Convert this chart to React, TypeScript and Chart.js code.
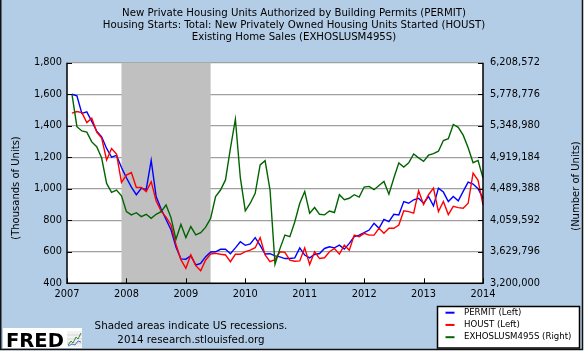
import React, { useEffect, useRef } from "react";
import { Chart, registerables } from "chart.js";

Chart.register(...registerables);

const FONT = "'DejaVu Sans', Verdana, sans-serif";
const BG = "#b4cde6";

const titleLines = [
  "New Private Housing Units Authorized by Building Permits (PERMIT)",
  "Housing Starts: Total: New Privately Owned Housing Units Started (HOUST)",
  "Existing Home Sales (EXHOSLUSM495S)",
];

const years = [2007, 2008, 2009, 2010, 2011, 2012, 2013, 2014];
const monthCodes = ["01", "02", "03", "04", "05", "06", "07", "08", "09", "10", "11", "12"];
const months: string[] = [];
years.forEach((y) =>
  monthCodes.forEach((m) => {
    if (y < 2014 || m === "01") months.push(`${y}-${m}`);
  })
);

// Thousands of units (left axis); Jan 2007 not drawn
const permit = [
  null,
  1600, 1590, 1478, 1488, 1428, 1366, 1330, 1256, 1200, 1212,
  1135, 1070, 1010, 962, 1003, 996, 1180, 950, 872, 805,
  740, 630, 555, 553, 575, 516, 527, 569, 599, 600,
  616, 616, 588, 625, 664, 641, 650, 690, 640, 586,
  588, 574, 568, 557, 557, 561, 625, 579, 561, 583,
  589, 621, 632, 625, 642, 617, 653, 696, 706, 721,
  738, 781, 749, 806, 791, 838, 834, 919, 908, 930,
  940, 908, 951, 891, 1004, 979, 919, 951, 923, 983,
  1042, 1030, 1000, 940,
];

const houst = [
  null,
  1480, 1490, 1483, 1420, 1448, 1360, 1322, 1183, 1255, 1220,
  1040, 1087, 1103, 1008, 1008, 982, 1045, 922, 858, 820,
  770, 648, 550, 495, 580, 512, 480, 548, 586, 590,
  584, 580, 537, 584, 584, 601, 611, 626, 690, 580,
  537, 550, 600, 596, 547, 540, 542, 625, 519, 600,
  557, 562, 600, 621, 585, 642, 610, 706, 696, 717,
  706, 706, 749, 717, 749, 749, 770, 860, 855, 845,
  987, 900, 962, 1004, 855, 919, 836, 888, 880, 876,
  908, 1100, 1054, 898,
];

// Number of units (right axis)
const existingSales = [
  null,
  5780000, 5336000, 5278000, 5262000, 5128000, 5063000, 4908000, 4562000, 4440000, 4472000,
  4393000, 4178000, 4133000, 4163000, 4109000, 4141000, 4085000, 4141000, 4178000, 4268000,
  4096000, 3800000, 4004000, 3823000, 3974000, 3860000, 3890000, 3965000, 4085000, 4382000,
  4472000, 4610000, 5042000, 5437000, 4640000, 4189000, 4292000, 4427000, 4814000, 4872000,
  4472000, 3460000, 3673000, 3858000, 3836000, 4040000, 4292000, 4453000, 4156000, 4234000,
  4141000, 4133000, 4186000, 4165000, 4408000, 4339000, 4360000, 4408000, 4376000, 4513000,
  4522000, 4477000, 4535000, 4590000, 4416000, 4636000, 4842000, 4786000, 4842000, 4964000,
  4911000, 4863000, 4947000, 4969000, 5001000, 5147000, 5171000, 5366000, 5328000, 5220000,
  5048000, 4844000, 4876000, 4636000,
];

const leftTicks = [400, 600, 800, 1000, 1200, 1400, 1600, 1800];
const rightTicks = [3200000, 3629796, 4059592, 4489388, 4919184, 5348980, 5778776, 6208572];
const recession = ["2007-12", "2009-06"];

const seriesNames = ["PERMIT (Left)", "HOUST (Left)", "EXHOSLUSM495S (Right)"];
const seriesColors = ["#0000ff", "#ff0000", "#006400"];

const footerLines = ["Shaded areas indicate US recessions.", "2014 research.stlouisfed.org"];
const leftTitle = "(Thousands of Units)";
const rightTitle = "(Number of Units)";

const framePlugin = {
  id: "fredFrame",
  beforeDraw(chart: any) {
    const { ctx, chartArea: a } = chart;
    ctx.save();
    ctx.fillStyle = "#ffffff";
    ctx.fillRect(0, 0, chart.width, chart.height);
    ctx.fillStyle = BG;
    ctx.fillRect(0, 0, 582.5, 350);
    ctx.strokeStyle = "#111";
    ctx.lineWidth = 1.5;
    ctx.beginPath();
    ctx.moveTo(0.75, 0);
    ctx.lineTo(0.75, 349.5);
    ctx.lineTo(582.5, 349.5);
    ctx.lineTo(582.5, 0);
    ctx.stroke();
    ctx.fillStyle = "#ffffff";
    ctx.fillRect(a.left, a.top, a.right - a.left, a.bottom - a.top);
    ctx.restore();
  },
  beforeDatasetsDraw(chart: any) {
    const { ctx, chartArea: a } = chart;
    const xs = chart.scales.x;
    const x0 = xs.getPixelForValue(months.indexOf(recession[0]));
    const x1 = xs.getPixelForValue(months.indexOf(recession[1]));
    ctx.save();
    ctx.fillStyle = "#c0c0c0";
    ctx.fillRect(x0, a.top, x1 - x0, a.bottom - a.top);
    ctx.restore();
  },
  afterDatasetsDraw(chart: any) {
    const { ctx, chartArea: a } = chart;
    const xs = chart.scales.x;
    const ys = chart.scales.y;
    ctx.save();
    ctx.strokeStyle = "#000";
    ctx.lineWidth = 1.5;
    ctx.beginPath();
    ctx.moveTo(a.left, a.top);
    ctx.lineTo(a.left, a.bottom);
    ctx.lineTo(a.right, a.bottom);
    ctx.lineTo(a.right, a.top);
    ctx.stroke();
    ctx.lineWidth = 1;
    ctx.beginPath();
    leftTicks.forEach((v) => {
      const y = Math.round(ys.getPixelForValue(v)) + 0.5;
      ctx.moveTo(a.left, y);
      ctx.lineTo(a.left + 5, y);
      ctx.moveTo(a.right - 5, y);
      ctx.lineTo(a.right, y);
    });
    months.forEach((m, i) => {
      if (m.endsWith("-01")) {
        const x = Math.round(xs.getPixelForValue(i)) + 0.5;
        ctx.moveTo(x, a.bottom);
        ctx.lineTo(x, a.bottom - 5);
      }
    });
    ctx.stroke();
    ctx.restore();
  },
  afterDraw(chart: any) {
    const { ctx } = chart;
    ctx.save();
    ctx.fillStyle = "#000";
    ctx.textAlign = "center";
    ctx.textBaseline = "middle";
    ctx.font = `10.2px ${FONT}`;
    titleLines.forEach((t, i) => ctx.fillText(t, 294, 13.5 + i * 12));

    // axis titles
    ctx.font = `10px ${FONT}`;
    ctx.save();
    ctx.translate(16, 188);
    ctx.rotate(-Math.PI / 2);
    ctx.fillText(leftTitle, 0, 0);
    ctx.restore();
    ctx.save();
    ctx.translate(576, 186);
    ctx.rotate(-Math.PI / 2);
    ctx.fillText(rightTitle, 0, 0);
    ctx.restore();

    // footer
    ctx.font = `10.3px ${FONT}`;
    ctx.fillText(footerLines[0], 191, 326.5);
    ctx.fillText(footerLines[1], 191, 340.5);

    // FRED logo
    ctx.fillStyle = "#ffffff";
    ctx.fillRect(3, 328, 79, 20);
    ctx.fillStyle = "#000";
    ctx.textAlign = "left";
    ctx.textBaseline = "alphabetic";
    ctx.font = `bold 19.5px ${FONT}`;
    ctx.fillText("FRED", 6, 346.5);
    // small icon
    ctx.fillStyle = "#f2f2f2";
    ctx.fillRect(67, 331, 15, 16);
    ctx.strokeStyle = "#bbb";
    ctx.lineWidth = 0.5;
    ctx.beginPath();
    [335, 339, 343].forEach((y) => {
      ctx.moveTo(67, y);
      ctx.lineTo(82, y);
    });
    ctx.stroke();
    ctx.lineWidth = 1;
    ctx.strokeStyle = "#3a8a3a";
    ctx.beginPath();
    ctx.moveTo(68, 345);
    ctx.lineTo(71, 341);
    ctx.lineTo(73, 343);
    ctx.lineTo(76, 337);
    ctx.lineTo(78, 339);
    ctx.lineTo(81, 333);
    ctx.stroke();
    ctx.strokeStyle = "#4a6fd0";
    ctx.beginPath();
    ctx.moveTo(68, 346);
    ctx.lineTo(72, 344);
    ctx.lineTo(75, 345);
    ctx.lineTo(78, 341);
    ctx.lineTo(81, 342);
    ctx.stroke();

    // legend
    const lx = 437.5, ly = 306.5, lw = 142, lh = 41.5;
    ctx.fillStyle = "#ffffff";
    ctx.fillRect(lx, ly, lw, lh);
    ctx.strokeStyle = "#000";
    ctx.lineWidth = 1.5;
    ctx.strokeRect(lx, ly, lw, lh);
    ctx.font = `8.6px ${FONT}`;
    ctx.textBaseline = "middle";
    chart.data.datasets.forEach((ds: any, i: number) => {
      const y = 312.7 + i * 12.25;
      ctx.strokeStyle = ds.borderColor;
      ctx.lineWidth = 2;
      ctx.beginPath();
      ctx.moveTo(445.5, y);
      ctx.lineTo(454.5, y);
      ctx.stroke();
      ctx.fillStyle = "#000";
      ctx.fillText(ds.label, 464, y);
    });
    ctx.restore();
  },
};

export default function App() {
  const ref = useRef<HTMLCanvasElement | null>(null);
  useEffect(() => {
    document.body.style.margin = "0";
    const canvas = ref.current;
    if (!canvas) return;
    const tickFont = { family: FONT, size: 9.8 };
    const chart = new Chart(canvas, {
      type: "line",
      data: {
        labels: months,
        datasets: [
          { label: seriesNames[0], data: permit, yAxisID: "y", borderColor: seriesColors[0], borderWidth: 1.4, pointRadius: 0, tension: 0, order: 3 },
          { label: seriesNames[1], data: houst, yAxisID: "y", borderColor: seriesColors[1], borderWidth: 1.4, pointRadius: 0, tension: 0, order: 2 },
          { label: seriesNames[2], data: existingSales, yAxisID: "y1", borderColor: seriesColors[2], borderWidth: 1.4, pointRadius: 0, tension: 0, order: 1 },
        ],
      } as any,
      options: {
        animation: false,
        responsive: false,
        maintainAspectRatio: false,
        events: [],
        layout: { padding: { top: 62.7, left: 0, right: 0, bottom: 0 } },
        plugins: { legend: { display: false }, tooltip: { enabled: false }, title: { display: false } },
        scales: {
          x: {
            type: "category",
            offset: false,
            grid: { display: false, drawTicks: false },
            border: { display: false },
            ticks: {
              autoSkip: false,
              maxRotation: 0,
              minRotation: 0,
              padding: 5,
              color: "#000",
              font: tickFont,
              callback: (_v: any, i: number) => (months[i].endsWith("-01") ? months[i].slice(0, 4) : ""),
            },
            afterFit: (s: any) => {
              s.height = 72.7;
            },
          },
          y: {
            type: "linear",
            position: "left",
            min: 400,
            max: 1800,
            afterBuildTicks: (s: any) => {
              s.ticks = leftTicks.map((v) => ({ value: v }));
            },
            ticks: {
              padding: 5,
              color: "#000",
              font: tickFont,
              callback: (v: any) => Number(v).toLocaleString("en-US"),
            },
            grid: { color: "#a0a0a0", lineWidth: 1.2, drawTicks: false },
            border: { display: false },
            afterFit: (s: any) => {
              s.width = 67;
            },
          },
          y1: {
            type: "linear",
            position: "right",
            min: 3200000,
            max: 6208572,
            afterBuildTicks: (s: any) => {
              s.ticks = rightTicks.map((v) => ({ value: v }));
            },
            ticks: {
              padding: 7,
              color: "#000",
              font: tickFont,
              callback: (v: any) => Number(v).toLocaleString("en-US"),
            },
            grid: { display: false, drawTicks: false },
            border: { display: false },
            afterFit: (s: any) => {
              s.width = 105;
            },
          },
        },
      } as any,
      plugins: [framePlugin],
    });
    return () => chart.destroy();
  }, []);
  return (
    <div style={{ width: 588, height: 356, background: "#fff" }}>
      <canvas ref={ref} width={588} height={356} style={{ display: "block", width: 588, height: 356 }} />
    </div>
  );
}
